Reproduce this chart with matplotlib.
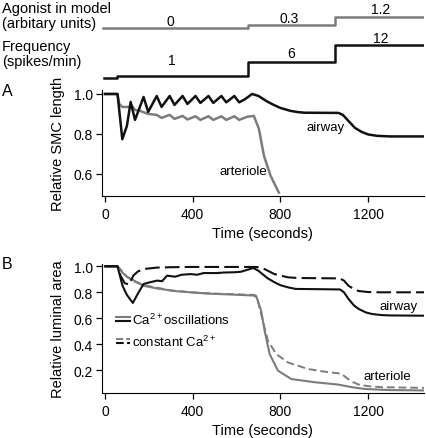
import numpy as np
import matplotlib
matplotlib.use("Agg")
import matplotlib.pyplot as plt
from matplotlib.lines import Line2D
from matplotlib.legend_handler import HandlerBase

plt.rcParams['font.family'] = ['Liberation Sans', 'DejaVu Sans']
plt.rcParams['mathtext.fontset'] = 'custom'
plt.rcParams['mathtext.rm'] = 'Liberation Sans'

# stimulus protocol (top traces)
agonist_t = [-8, 650, 1050, 1455]
agonist_v = [0, 0.3, 1.2, 1.2]
agonist_labels = ["0", "0.3", "1.2"]
agonist_label_t = [300, 842, 1259]
freq_t = [-3, 53, 650, 1050, 1450]
freq_v = [0, 1, 6, 12, 12]
freq_labels = ["1", "6", "12"]
freq_label_t = [305, 850, 1259]

# panel A: relative SMC length
a_air_t = [0, 57, 62, 79, 100, 117, 137, 176, 197, 236, 258, 295, 317, 354, 376, 413, 435,
           472, 494, 531, 553, 590, 612, 640, 671, 700, 740, 770, 800, 847, 880, 910, 1065,
           1085, 1110, 1140, 1170, 1200, 1240, 1300, 1455]
a_air_v = [1.0, 1.0, 0.95, 0.773, 0.84, 0.96, 0.87, 0.985, 0.91, 0.99, 0.935, 0.99, 0.945,
           0.99, 0.95, 0.99, 0.955, 0.99, 0.955, 0.99, 0.958, 0.99, 0.958, 0.975, 1.0, 0.99,
           0.962, 0.945, 0.93, 0.915, 0.909, 0.906, 0.905, 0.895, 0.865, 0.83, 0.81, 0.797,
           0.79, 0.787, 0.787]
a_art_t = [0, 57, 65, 79, 115, 120, 137, 160, 197, 236, 258, 295, 317, 354, 376, 413, 435,
           472, 494, 531, 553, 590, 612, 650, 679, 702, 725, 755, 793]
a_art_v = [1.0, 1.0, 0.95, 0.935, 0.935, 0.945, 0.92, 0.915, 0.90, 0.895, 0.88, 0.895, 0.875,
           0.89, 0.872, 0.888, 0.87, 0.888, 0.87, 0.888, 0.87, 0.888, 0.87, 0.886, 0.89,
           0.825, 0.69, 0.59, 0.505]

# panel B: relative luminal area
b_air_osc_t = [0, 57, 80, 100, 127, 150, 176, 200, 238, 260, 283, 320, 350, 390, 420, 450,
               513, 540, 589, 620, 651, 677, 700, 740, 773, 800, 835, 870, 1072, 1090, 1111,
               1135, 1157, 1190, 1218, 1260, 1300, 1455]
b_air_osc_v = [1.0, 1.0, 0.85, 0.78, 0.718, 0.79, 0.864, 0.875, 0.89, 0.885, 0.928, 0.92,
               0.935, 0.94, 0.935, 0.948, 0.948, 0.952, 0.954, 0.958, 0.974, 0.987, 0.965,
               0.91, 0.877, 0.855, 0.838, 0.826, 0.822, 0.80, 0.748, 0.70, 0.672, 0.645,
               0.633, 0.625, 0.622, 0.62]
b_air_con_t = [0, 57, 70, 90, 110, 130, 150, 176, 237, 300, 400, 500, 600, 690, 720, 773,
               835, 880, 1070, 1090, 1111, 1135, 1157, 1200, 1250, 1455]
b_air_con_v = [1.0, 1.0, 0.93, 0.87, 0.86, 0.93, 0.96, 0.979, 0.99, 0.993, 0.995, 0.995,
               0.995, 0.995, 0.985, 0.94, 0.915, 0.91, 0.907, 0.89, 0.85, 0.825, 0.81, 0.802,
               0.80, 0.80]
b_art_osc_t = [0, 57, 80, 100, 122, 176, 237, 314, 390, 467, 589, 666, 689, 712, 728, 751,
               789, 850, 957, 1065, 1126, 1187, 1300, 1455]
b_art_osc_v = [1.0, 1.0, 0.95, 0.92, 0.90, 0.85, 0.83, 0.81, 0.80, 0.79, 0.782, 0.776, 0.774,
               0.66, 0.505, 0.325, 0.197, 0.133, 0.108, 0.09, 0.07, 0.056, 0.048, 0.045]
b_art_con_t = [0, 57, 80, 100, 130, 180, 237, 300, 390, 500, 589, 680, 697, 720, 743, 781,
               835, 926, 1000, 1065, 1085, 1103, 1130, 1157, 1200, 1264, 1455]
b_art_con_v = [1.0, 1.0, 0.96, 0.92, 0.885, 0.855, 0.835, 0.815, 0.80, 0.79, 0.785, 0.78,
               0.735, 0.58, 0.428, 0.325, 0.26, 0.21, 0.19, 0.177, 0.165, 0.14, 0.11, 0.09,
               0.078, 0.07, 0.065]

GRAY = '#7c7c7c'
BLACK = '#111111'
W, H = 426, 439
XLIM = (-15, 1455)


def px_axes(left, top, right, bottom):
    return fig.add_axes([left / W, 1 - bottom / H, (right - left) / W, (bottom - top) / H])


class StackHandler(HandlerBase):
    # gray line above the black one, like the original legend
    def create_artists(self, legend, orig_handle, xdescent, ydescent, width, height,
                       fontsize, trans):
        arts = []
        mid = height / 2 - ydescent
        for i, h in enumerate(orig_handle):
            y = mid + (1.3 if i == 0 else -1.3)
            ln = Line2D([-xdescent, -xdescent + width], [y, y], color=h.get_color(),
                        lw=h.get_linewidth(), linestyle=h.get_linestyle())
            ln.set_transform(trans)
            arts.append(ln)
        return arts


fig = plt.figure(figsize=(4.26, 4.39), dpi=100)

# top protocol traces
ax_ag = px_axes(101.7, 7, 424, 34)
ax_ag.plot(agonist_t, agonist_v, drawstyle='steps-post', color=GRAY, lw=1.8)
ax_ag.set_ylim(-0.545, 2.4)
for tl, v, lab, off in zip(agonist_label_t, agonist_v, agonist_labels, [2, 2, 3]):
    ax_ag.annotate(lab, (tl, v), xytext=(0, off), textcoords='offset points',
                   ha='center', va='baseline', fontsize=10)
ax_fr = px_axes(101.7, 36, 424, 86)
ax_fr.plot(freq_t, freq_v, drawstyle='steps-post', color=BLACK, lw=1.8)
ax_fr.set_ylim(-2.41, 15.6)
for tl, v, lab, off in zip(freq_label_t, freq_v[1:], freq_labels, [8, 3.5, 2.5]):
    ax_fr.annotate(lab, (tl, v), xytext=(0, off), textcoords='offset points',
                   ha='center', va='baseline', fontsize=10)
for a in (ax_ag, ax_fr):
    a.set_xlim(*XLIM)
    a.axis('off')

fig.text(2 / W, 1 - 2 / H, "Agonist in model\n(arbitary units)", fontsize=10.5,
         va='top', ha='left', linespacing=1.05)
fig.text(2 / W, 1 - 40 / H, "Frequency\n(spikes/min)", fontsize=10.5,
         va='top', ha='left', linespacing=1.05)

# panel A
axA = px_axes(101.7, 91, 424, 197)
axA.plot(a_art_t, a_art_v, color=GRAY, lw=1.8)
axA.plot(a_air_t, a_air_v, color=BLACK, lw=1.8)
axA.set_ylim(0.488, 1.02)
axA.set_yticks([0.6, 0.8, 1.0])
axA.set_ylabel("Relative SMC length", fontsize=10.5, labelpad=6)
axA.text(920, 0.835, "airway", fontsize=9.5, va='center')
axA.text(524, 0.615, "arteriole", fontsize=9.5, va='center')
fig.text(2 / W, 1 - 92 / H, "A", fontsize=11.5, va='center')

# panel B
axB = px_axes(101.7, 264.7, 424, 394)
l1, = axB.plot(b_art_con_t, b_art_con_v, color=GRAY, lw=1.4, dashes=(4, 2))
l2, = axB.plot(b_art_osc_t, b_art_osc_v, color=GRAY, lw=1.5)
l3, = axB.plot(b_air_con_t, b_air_con_v, color=BLACK, lw=1.5, dashes=(7, 2.5))
l4, = axB.plot(b_air_osc_t, b_air_osc_v, color=BLACK, lw=1.5)
axB.set_ylim(0.0254, 1.02)
axB.set_yticks([0.2, 0.4, 0.6, 0.8, 1.0])
axB.set_ylabel("Relative luminal area", fontsize=10.5, labelpad=6)
axB.text(1252, 0.695, "airway", fontsize=9.5, va='center')
axB.text(1178, 0.155, "arteriole", fontsize=9.5, va='center')
fig.text(2 / W, 1 - 265 / H, "B", fontsize=11.5, va='center')
axB.legend([(l2, l4), (l1, l3)],
           [r"Ca$^{\mathregular{2+}}$oscillations", r"constant Ca$^{\mathregular{2+}}$"],
           handler_map={tuple: StackHandler()}, frameon=False, fontsize=9.5,
           loc='upper left', bbox_to_anchor=(0.044, 0.63), borderpad=0, borderaxespad=0,
           handlelength=1.1, handletextpad=0.15, labelspacing=0.5)

for a in (axA, axB):
    a.set_xlim(*XLIM)
    a.set_xticks([0, 400, 800, 1200])
    a.set_xlabel("Time (seconds)", fontsize=10.5, labelpad=4)
    a.spines['top'].set_visible(False)
    a.spines['right'].set_visible(False)
    a.tick_params(direction='out', length=4.3, width=0.9, labelsize=10, pad=2)
    a.tick_params(axis='x', pad=3.5)

fig.savefig("out.png", dpi=100)
